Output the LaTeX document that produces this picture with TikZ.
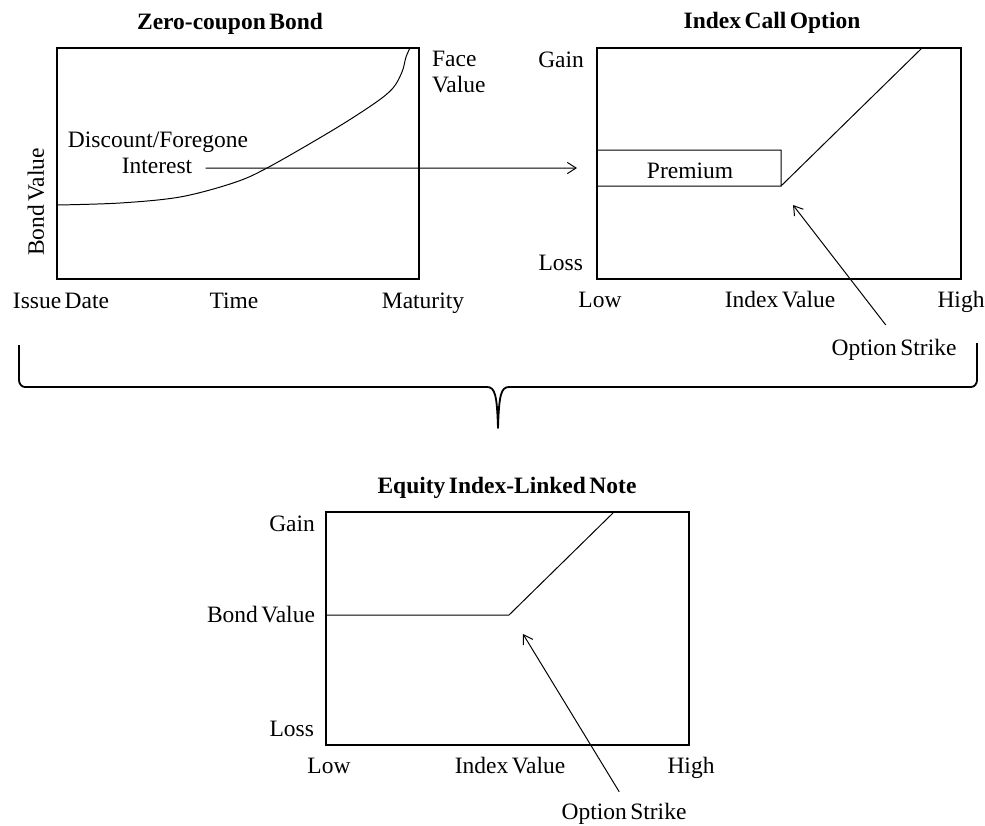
\documentclass[tikz,border=0pt]{standalone}
\usepackage{fontspec}
\setmainfont{Liberation Serif}[WordSpace=0.6]
\usetikzlibrary{positioning, arrows.meta}

\tikzstyle{frame} = [draw = black, line width = 1pt]
\tikzstyle{curve} = [draw = black, line width = 0.7pt]
\tikzstyle{title} = [font = \fontsize{16.7}{18.4}\selectfont\bfseries, inner sep = 2pt]
\tikzstyle{txt} = [font = \fontsize{16.7}{18.4}\selectfont, inner sep = 2pt]
\tikzstyle{arrow} = [line width = 0.7pt, -{Straight Barb[length=2.2mm, width=2.8mm]}, draw = black]
\tikzstyle{brace} = [line width = 1.3pt, draw = black, line join = round]

\begin{document}
\begin{tikzpicture}[x = 0.025cm, y = -0.025cm]
    \useasboundingbox (0, 0) rectangle (985, 825);
    % zero-coupon bond
    \node(bond_title)[title, anchor = base] at (230, 29) {Zero-coupon Bond};
    \draw[frame] (57, 48) rectangle (419, 279);
    \draw[curve] plot[smooth, tension = 0.55] coordinates {(57, 205) (120, 203) (180, 197) (233, 183) (267, 168) (333, 130) (375, 103) (393, 88) (402, 72) (406, 57) (410, 48)};
    \node(face)[txt, anchor = north west, align = left] at (429, 48) {Face\\Value};
    \node(discount)[txt, anchor = base] at (158, 147) {Discount/Foregone};
    \node(interest)[txt, anchor = base] at (157, 173) {Interest};
    \node(bond_axis)[txt, rotate = 90] at (36, 202) {Bond Value};
    \node(issue)[txt, anchor = base] at (61, 308) {Issue Date};
    \node(time)[txt, anchor = base] at (234, 308) {Time};
    \node(maturity)[txt, anchor = base] at (423, 308) {Maturity};
    % index call option
    \node(call_title)[title, anchor = base] at (772, 28) {Index Call Option};
    \draw[frame] (597, 48) rectangle (961, 279);
    \draw[curve] (597, 150) -- (781, 150) -- (781, 186) -- (597, 186) (781, 186) -- (922, 48);
    \node(premium)[txt, anchor = base] at (690, 178) {Premium};
    \node(call_gain)[txt, anchor = base east] at (587, 67) {Gain};
    \node(call_loss)[txt, anchor = base east] at (586, 270) {Loss};
    \node(call_low)[txt, anchor = base] at (600, 307) {Low};
    \node(call_index)[txt, anchor = base] at (780, 307) {Index Value};
    \node(call_high)[txt, anchor = base] at (961, 307) {High};
    \node(call_strike)[txt, anchor = base] at (894, 355) {Option Strike};
    \coordinate(premium_in) at (577, 168);
    \coordinate(call_kink) at (793, 205);
    \draw[arrow, shorten <= 2.6mm] ([yshift = 1.25mm]interest.base east) -- (premium_in);
    \draw[arrow, shorten <= 3.4mm] (call_strike.north) -- (call_kink);
    % brace
    \draw[brace] (19, 345) -- (19, 380) to[out = -90, in = 180] (25, 387) -- (487, 387)
        .. controls (495, 387) and (497, 395) .. (498, 428)
        .. controls (499, 395) and (501, 387) .. (509, 387) -- (971, 387)
        to[out = 0, in = -90] (977, 380) -- (977, 343);
    % equity index-linked note
    \node(note_title)[title, anchor = base] at (507, 493) {Equity Index-Linked Note};
    \draw[frame] (326, 512) rectangle (689, 745);
    \draw[curve] (326, 615) -- (509, 615) -- (614, 512);
    \node(note_gain)[txt, anchor = base east] at (318, 531) {Gain};
    \node(note_bond)[txt, anchor = base east] at (318, 622) {Bond Value};
    \node(note_loss)[txt, anchor = base east] at (317, 736) {Loss};
    \node(note_low)[txt, anchor = base] at (329, 773) {Low};
    \node(note_index)[txt, anchor = base] at (510, 773) {Index Value};
    \node(note_high)[txt, anchor = base] at (691, 773) {High};
    \node(note_strike)[txt, anchor = base] at (624, 819) {Option Strike};
    \coordinate(note_kink) at (523, 634);
    \draw[arrow, shorten <= 2.3mm] (note_strike.north) -- (note_kink);
\end{tikzpicture}
\end{document}
